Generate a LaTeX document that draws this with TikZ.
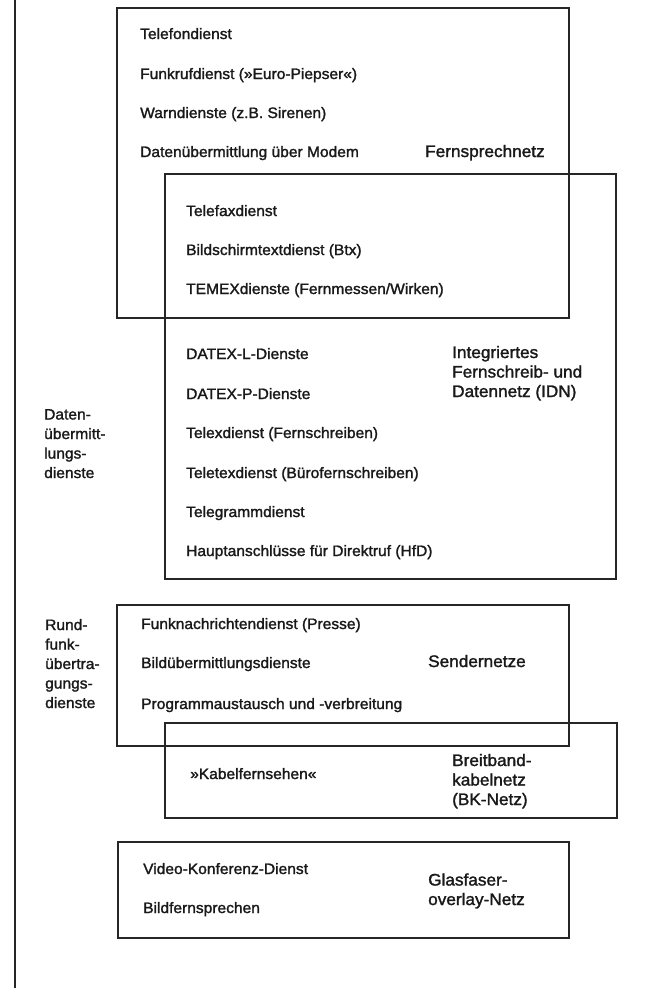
\documentclass[tikz,border=0pt]{standalone}
\usepackage{fontspec}
\setmainfont{Liberation Sans}
\newfontfamily\itemfont[FakeStretch=1.03,FakeBold=1.6]{Liberation Sans}
\begin{document}
\begin{tikzpicture}[x=1pt,y=-1pt,
  boxline/.style={draw=black!85, line width=1.3pt},
  item/.style={anchor=base west, inner sep=0pt, text=black!90,
    font=\itemfont\fontsize{15.1}{19.5}\selectfont},
  side/.style={item, align=left},
  net/.style={anchor=base west, inner sep=0pt, align=left, text=black!90,
    font=\itemfont\fontsize{16.7}{19.5}\selectfont}]
\fill[white] (0,0) rectangle (655,988);
\useasboundingbox (0,0) rectangle (655,988);
% left rule
\coordinate (lt) at (15,0);
\coordinate (lb) at (15,988);
\draw[boxline] (lt) -- (lb);
% boxes
\draw[boxline] (117,8) rectangle (569,318);
\draw[boxline] (165,174) rectangle (616,579);
\draw[boxline] (117,605) rectangle (569,746);
\draw[boxline] (165,723) rectangle (617,818);
\draw[boxline] (118,842) rectangle (569,938);
% Fernsprechnetz
\node[item] (t1) at (140,39) {Telefondienst};
\node[item] (t2) at (140,79) {Funkrufdienst (»Euro-Piepser«)};
\node[item] (t3) at (140,118) {Warndienste (z.B. Sirenen)};
\node[item] (t4) at (140,157) {Datenübermittlung über\ Modem};
\node[net] (n1) at (425,157) {Fernsprechnetz};
\node[item] (t5) at (186,216) {Telefaxdienst};
\node[item] (t6) at (186,255) {Bildschirmtextdienst (Btx)};
\node[item] (t7) at (186,294) {TEMEXdienste (Fernmessen/Wirken)};
% IDN
\node[item] (d1) at (186,359) {DATEX-L-Dienste};
\node[item] (d2) at (186,399) {DATEX-P-Dienste};
\node[item] (d3) at (186,438) {Telexdienst (Fernschreiben)};
\node[item] (d4) at (186,478) {Teletexdienst (Bürofernschreiben)};
\node[item] (d5) at (186,517) {Telegrammdienst};
\node[item] (d6) at (186,556) {Hauptanschlüsse für Direktruf (HfD)};
\node[net] (n2) at (452,397) {Integriertes\\Fernschreib- und\\Datennetz (IDN)};
\node[side] (s1) at (44,478) {Daten-\\übermitt-\\lungs-\\dienste};
% Sendernetze
\node[side] (s2) at (45,708) {Rund-\\funk-\\übertra-\\gungs-\\dienste};
\node[item] (r1) at (141,629) {Funknachrichtendienst (Presse)};
\node[item] (r2) at (141,668) {Bildübermittlungsdienste};
\node[item] (r3) at (141,709) {Programmaustausch und -verbreitung};
\node[net] (n3) at (428,667) {Sendernetze};
% BK
\node[item] (k1) at (190,779) {»Kabelfernsehen«};
\node[net] (n4) at (452,805) {Breitband-\\kabelnetz\\(BK-Netz)};
% Glasfaser
\node[item] (g1) at (143,874) {Video-Konferenz-Dienst};
\node[item] (g2) at (143,913) {Bildfernsprechen};
\node[net] (n5) at (428,905) {Glasfaser-\\overlay-Netz};
\end{tikzpicture}
\end{document}
